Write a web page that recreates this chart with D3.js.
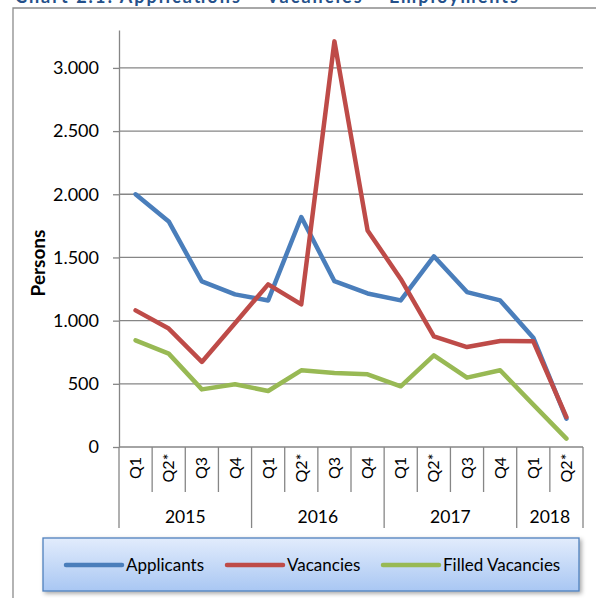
<!DOCTYPE html>
<meta charset="utf-8">
<style>

body {
  margin: 0;
  background: #fff;
}

svg {
  display: block;
  font-family: Lato, "Open Sans", sans-serif;
}

.grid line,
.sep line,
.axis line,
.axis path {
  stroke: #868686;
  stroke-width: 1.3px;
  fill: none;
}

.series {
  fill: none;
  stroke-width: 4.5px;
  stroke-linejoin: round;
  stroke-linecap: round;
}

</style>
<body>
<div id="container"></div>
<script src="https://cdn.jsdelivr.net/npm/d3@7"></script>
<script>

// data
var quarters = ["Q1", "Q2*", "Q3", "Q4", "Q1", "Q2*", "Q3", "Q4", "Q1", "Q2*", "Q3", "Q4", "Q1", "Q2*"];
var years = ["2015", "2016", "2017", "2018"];
var yearQuarters = [4, 4, 4, 2];
var applicants = [2000, 1785, 1310, 1208, 1160, 1820, 1312, 1215, 1160, 1509, 1226, 1160, 865, 224];
var vacancies = [1081, 937, 673, 980, 1287, 1129, 3210, 1714, 1330, 876, 791, 839, 836, 237];
var filled = [844, 739, 456, 496, 443, 607, 585, 575, 480, 725, 549, 607, 335, 66];
var yTicks = [0, 500, 1000, 1500, 2000, 2500, 3000];
var seriesNames = ["Applicants", "Vacancies", "Filled Vacancies"];
var seriesColors = ["#4a7ebb", "#be4b48", "#98b954"];

var W = 596, H = 598;
var plot = {left: 119, right: 583, top: 30, bottom: 447};

var svg = d3.select("#container")
  .append("svg")
    .attr("width", W)
    .attr("height", H);

// outer frame (runs off the right and bottom)
svg.append("path")
    .attr("d", "M13," + (H + 2) + "V8H" + (W + 2))
    .attr("fill", "none")
    .attr("stroke", "#8c8c8c")
    .attr("stroke-width", 1.3);

// title, cut off at the top like the source
svg.append("text")
    .attr("x", 15)
    .attr("y", 3)
    .attr("font-weight", "bold")
    .attr("font-size", 18)
    .attr("fill", "#24508a")
    .attr("textLength", 503)
    .text("Chart 2.1: Applications \u2013 Vacancies \u2013 Employments");

var x = d3.scaleBand()
    .domain(d3.range(quarters.length))
    .range([plot.left, plot.right]);

var y = d3.scaleLinear()
    .domain([0, 3300])
    .range([plot.bottom, plot.top]);

var fmt = d3.formatLocale({decimal: ",", thousands: ".", grouping: [3], currency: ["", ""]}).format(",");

// gridlines
svg.append("g")
    .attr("class", "grid")
  .selectAll("line")
  .data(yTicks.filter(function(d) { return d > 0; }))
  .enter().append("line")
    .attr("x1", plot.left)
    .attr("x2", plot.right)
    .attr("y1", function(d) { return y(d); })
    .attr("y2", function(d) { return y(d); });

// y axis
var yAxis = svg.append("g")
    .attr("class", "axis")
    .attr("transform", "translate(" + plot.left + ",0)")
    .call(d3.axisLeft(y).tickValues(yTicks).tickFormat(fmt).tickSize(6).tickSizeOuter(0).tickPadding(14));

yAxis.selectAll("text")
    .attr("font-family", "Lato, sans-serif")
    .attr("font-size", 18)
    .attr("fill", "#000");

// x axis line
svg.append("line")
    .attr("x1", plot.left)
    .attr("x2", plot.right)
    .attr("y1", plot.bottom)
    .attr("y2", plot.bottom)
    .attr("stroke", "#868686")
    .attr("stroke-width", 1.3);

// category separators, longer at year boundaries
var yearStarts = [0];
yearQuarters.forEach(function(n, i) { yearStarts.push(yearStarts[i] + n); });

svg.append("g")
    .attr("class", "sep")
  .selectAll("line")
  .data(d3.range(quarters.length + 1))
  .enter().append("line")
    .attr("x1", function(i) { return i < quarters.length ? x(i) : plot.right; })
    .attr("x2", function(i) { return i < quarters.length ? x(i) : plot.right; })
    .attr("y1", plot.bottom)
    .attr("y2", function(i) { return yearStarts.indexOf(i) >= 0 ? 528 : 492; });

// quarter labels
svg.append("g")
  .selectAll("text")
  .data(quarters)
  .enter().append("text")
    .attr("transform", function(d, i) {
      return "translate(" + (x(i) + x.bandwidth() / 2 + 5.5) + ",468) rotate(-90)";
    })
    .attr("text-anchor", "middle")
    .attr("font-size", 16)
    .text(function(d) { return d; });

// year labels
svg.append("g")
  .selectAll("text")
  .data(years)
  .enter().append("text")
    .attr("x", function(d, i) {
      var a = x(yearStarts[i]);
      var b = yearStarts[i + 1] < quarters.length ? x(yearStarts[i + 1]) : plot.right;
      return (a + b) / 2;
    })
    .attr("y", 523)
    .attr("text-anchor", "middle")
    .attr("font-size", 17.5)
    .text(function(d) { return d; });

// y axis title
svg.append("text")
    .attr("transform", "translate(45,263) rotate(-90)")
    .attr("text-anchor", "middle")
    .attr("font-weight", "bold")
    .attr("font-size", 19)
    .text("Persons");

// lines
var line = d3.line()
    .x(function(d, i) { return x(i) + x.bandwidth() / 2; })
    .y(function(d) { return y(d); });

[applicants, vacancies, filled].forEach(function(s, k) {
  svg.append("path")
      .attr("class", "series")
      .attr("stroke", seriesColors[k])
      .attr("d", line(s));
});

// legend
var defs = svg.append("defs");
var grad = defs.append("linearGradient")
    .attr("id", "lg")
    .attr("x1", 0).attr("y1", 0).attr("x2", 0).attr("y2", 1);
grad.append("stop").attr("offset", "0%").attr("stop-color", "#e2ecfc");
grad.append("stop").attr("offset", "100%").attr("stop-color", "#a9c7f3");

var shadow = defs.append("filter")
    .attr("id", "sh")
    .attr("x", "-5%").attr("y", "-20%").attr("width", "115%").attr("height", "160%");
shadow.append("feDropShadow")
    .attr("dx", 2).attr("dy", 2).attr("stdDeviation", 2)
    .attr("flood-color", "#000").attr("flood-opacity", 0.35);

svg.append("rect")
    .attr("x", 43)
    .attr("y", 538)
    .attr("width", 536)
    .attr("height", 53)
    .attr("fill", "url(#lg)")
    .attr("stroke", "#4f81bd")
    .attr("stroke-width", 1.3)
    .attr("filter", "url(#sh)");

var legendX = [66, 227, 383];
var leg = svg.append("g")
  .selectAll("g")
  .data(seriesNames)
  .enter().append("g")
    .attr("transform", function(d, i) { return "translate(" + legendX[i] + ",565)"; });

leg.append("line")
    .attr("x1", 0)
    .attr("x2", 56)
    .attr("stroke", function(d, i) { return seriesColors[i]; })
    .attr("stroke-width", 4.5)
    .attr("stroke-linecap", "round");

leg.append("text")
    .attr("x", 60)
    .attr("y", 6)
    .attr("font-size", 17)
    .text(function(d) { return d; });

</script>
</body>
